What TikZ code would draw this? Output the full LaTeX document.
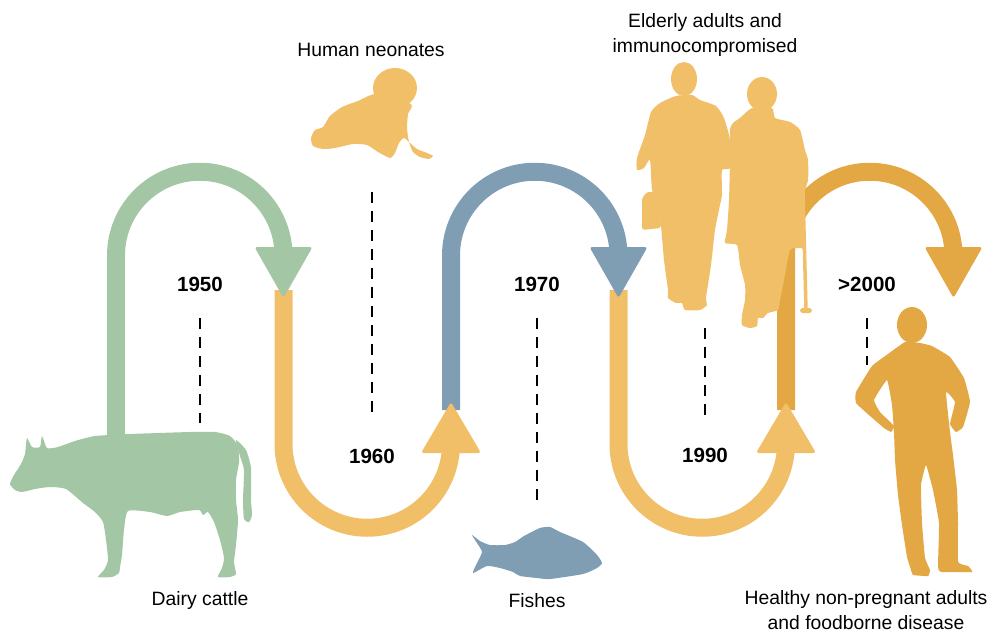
\documentclass[tikz,border=0pt]{standalone}
\usepackage{fontspec}
\setmainfont{Liberation Sans}
\definecolor{cattle}{HTML}{A3C7A4}
\definecolor{human}{HTML}{F2BF69}
\definecolor{fish}{HTML}{7F9DB3}
\definecolor{adult}{HTML}{E3A843}

\begin{document}
\begin{tikzpicture}[x=0.02cm, y=-0.02cm,
    track/.style={line width=0.36cm},
    head/.style={rounded corners=1.5pt},
    figure/.style={smooth cycle, tension=0.35},
    year/.style={font=\fontsize{11.7}{14}\selectfont\bfseries, inner sep=0pt},
    caption/.style={font=\fontsize{11}{14.2}\selectfont, align=center, inner sep=0pt},
    tick/.style={line width=1pt, dash pattern=on 0.22cm off 0.16cm}]
    \useasboundingbox (0,0) rectangle (991,632);

    % turning points of the track
    \coordinate (p1) at (116,255.5);
    \coordinate (p2) at (283.5,255.5);
    \coordinate (p3) at (451,255.5);
    \coordinate (p4) at (618.5,255.5);
    \coordinate (p5) at (786,255.5);
    \coordinate (p6) at (953.5,255.5);

    % track lines
    \draw[track, cattle] (116,440) -- (p1) arc[start angle=180, end angle=360, radius=83.75] -- ++(0,8);
    \draw[track, fish] (451,410) -- (p3) arc[start angle=180, end angle=360, radius=83.75] -- ++(0,8);
    \draw[track, adult] (786,410) -- (p5) arc[start angle=180, end angle=360, radius=83.75] -- ++(0,8);
    \draw[track, human] (283.5,290) -- (283.5,444) arc[start angle=180, end angle=0, radius=83.75] -- (451,453);
    \draw[track, human] (618.5,290) -- (618.5,444) arc[start angle=180, end angle=0, radius=83.75] -- (786,453);

    % arrow heads
    \fill[head, cattle] (254.5,247) -- (312.5,247) -- (283.5,298) -- cycle;
    \fill[head, fish] (589.5,247) -- (647.5,247) -- (618.5,298) -- cycle;
    \fill[head, adult] (924.5,247) -- (982.5,247) -- (953.5,298) -- cycle;
    \fill[head, human] (421,453) -- (481,453) -- (451,402) -- cycle;
    \fill[head, human] (756,453) -- (816,453) -- (786,402) -- cycle;

    % dairy cattle
    \fill[cattle] plot[figure] coordinates {(10,484) (14,475) (21,464) (25,454) (27,438) (32,447) (40,447)
        (42,436) (47,448) (58,447) (75,441) (95,436) (130,434) (190,432) (215,432) (230,436) (238,446)
        (239,462) (236,480) (236,500) (238,520) (236,545) (234,562) (236,574) (230,577) (218,577)
        (222,568) (224,558) (220,540) (214,522) (208,512) (203,515) (199,510) (180,512) (167,516)
        (150,512) (128,511) (124,530) (122,555) (120,567) (119,573) (112,577) (98,577) (104,570)
        (108,560) (106,540) (103,522) (95,512) (83,503) (66,489) (50,487) (35,489) (22,492) (15,490)};
    \fill[cattle] plot[figure] coordinates {(236,440) (246,450) (251,468) (251,500) (252,515) (249,522)
        (244,519) (243,500) (244,470) (240,456)};

    % human neonate
    \fill[human] (395,88) ellipse[x radius=22, y radius=20];
    \fill[human] plot[figure] coordinates {(376,94) (358,101) (342,107) (330,116) (323,127) (315,130)
        (311,138) (313,146) (323,149) (335,148) (353,144) (367,145) (378,152) (390,158) (395,153)
        (399,143) (404,138) (410,143) (417,149) (427,153) (433,156) (429,159) (420,157) (413,152)
        (409,142) (407,128) (408,114) (411,104)};

    % fish
    \fill[fish] plot[figure] coordinates {(472,535) (480,541) (490,545) (505,545) (515,542) (524,536)
        (540,528) (550,527) (560,532) (583,542) (597,555) (602,563) (597,568) (583,574) (550,579)
        (537,578) (520,576) (513,572) (500,568) (487,566) (473,573) (477,563) (482,552) (477,543)};

    % elderly couple
    \fill[human] (684,79) ellipse[x radius=13, y radius=17];
    \fill[human] plot[figure] coordinates {(676,96) (660,103) (651,112) (645,135) (637,158) (637,170)
        (644,168) (650,160) (652,190) (657,200) (660,215) (664,260) (668,290) (668,298) (676,303)
        (682,303) (685,310) (700,310) (707,305) (706,298) (711,265) (715,230) (720,205) (722,195)
        (722,170) (730,168) (730,140) (724,118) (716,106) (700,100) (692,95)};
    \fill[human, head] (642,198) -- (647,192) -- (655,192) -- (660,198) -- (661,228) -- (642,230) -- cycle;
    \fill[human] (762,94) ellipse[x radius=15, y radius=17];
    \fill[human] plot[figure] coordinates {(752,108) (740,118) (733,123) (730,130) (730,160) (729,200)
        (727,230) (725,243) (737,245) (740,265) (745,285) (745,300) (742,315) (742,325) (750,328)
        (757,326) (758,318) (763,318) (768,313) (778,310) (780,300) (784,280) (790,250) (800,248)
        (805,246) (803,200) (808,180) (808,160) (805,150) (800,130) (790,122) (775,118) (772,108)};
    \draw[human, line width=2pt] (803,192) -- (806,310);
    \fill[human, head] (800,308) -- (812,308) -- (812,313) -- (800,313) -- cycle;

    % healthy adult
    \fill[adult] (912,325) ellipse[x radius=15, y radius=18];
    \fill[adult] plot[smooth cycle, tension=0.2] coordinates {(905,342) (888,354) (872,366) (856,392)
        (856,403) (870,416) (884,428) (891,432) (894,426) (880,412) (874,400) (887,380) (892,405)
        (894,432) (895,460) (898,495) (902,525) (907,557) (911,570) (913,575) (928,576) (930,570)
        (925,558) (922,523) (921,485) (926,465) (933,490) (939,523) (938,567) (941,572) (972,572)
        (968,566) (958,562) (958,523) (957,490) (953,455) (950,432) (946,392) (955,402) (950,424)
        (956,432) (963,427) (970,402) (964,378) (950,357) (932,346) (920,343)};

    % years and dashed ticks
    \node[year] (y1950) at (200,284) {1950};
    \node[year] (y1960) at (372,456) {1960};
    \node[year] (y1970) at (537,284) {1970};
    \node[year] (y1990) at (705,455) {1990};
    \node[year] (y2000) at (867,284) {>2000};
    \draw[tick] (200,318) -- (200,423);
    \draw[tick] (372,192) -- (372,415);
    \draw[tick] (537,318) -- (537,502);
    \draw[tick] (705,328) -- (705,417);
    \draw[tick] (867,318) -- (867,365);

    % captions
    \node[caption] (cattlelbl) at (200,600) {Dairy cattle};
    \node[caption] (neonatelbl) at (371,50) {Human neonates};
    \node[caption] (fishlbl) at (537,601) {Fishes};
    \node[caption] (elderlbl) at (705,35) {Elderly adults and\\immunocompromised};
    \node[caption] (healthylbl) at (866,610) {Healthy non-pregnant adults\\and foodborne disease};
\end{tikzpicture}
\end{document}
